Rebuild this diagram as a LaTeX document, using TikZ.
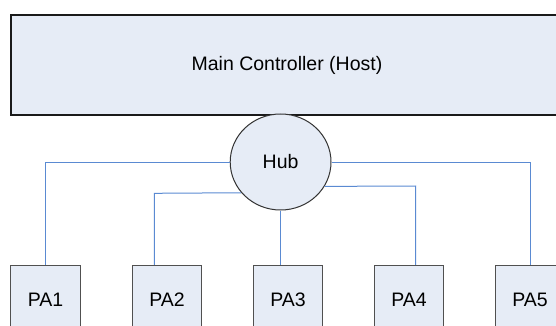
\documentclass[tikz,border=0pt]{standalone}
\usepackage{fontspec}
\setmainfont{Liberation Sans}
\usetikzlibrary{shapes.geometric}
\definecolor{boxfill}{HTML}{E6ECF6}
\definecolor{linkblue}{HTML}{5A8AD2}
\definecolor{mainedge}{HTML}{1A1A1A}
\definecolor{paedge}{HTML}{505050}
\definecolor{hubedge}{HTML}{333333}
\begin{document}
\begin{tikzpicture}[x=1pt,y=-1pt,
  font=\fontsize{19.5}{23}\selectfont,
  hostbox/.style={draw=mainedge,line width=1.3pt,fill=boxfill,rectangle,
    minimum width=552pt,minimum height=100pt,inner sep=0pt},
  hubnode/.style={draw=hubedge,line width=1pt,fill=boxfill,ellipse,
    minimum width=100.8pt,minimum height=96pt,inner sep=0pt},
  pabox/.style={draw=paedge,line width=1.2pt,fill=boxfill,rectangle,
    minimum width=69.5pt,minimum height=68pt,inner sep=0pt},
  link/.style={draw=linkblue,line width=1pt}]
\useasboundingbox (0,0) rectangle (556,326);
\begin{scope}
\clip (0,0) rectangle (556,326);
% host controller
\node[hostbox] (host) at (287,65) {Main Controller (Host)};
% power amplifier modules
\node[pabox] (pa1) at (45.6,299.5) {PA1};
\node[pabox] (pa2) at (167,299.5) {PA2};
\node[pabox] (pa3) at (288,299.5) {PA3};
\node[pabox] (pa4) at (409,299.5) {PA4};
\node[pabox] (pa5) at (530,299.5) {PA5};
% hub and its wiring to each module
\coordinate (j2) at (154.3,193.3);
\coordinate (j4) at (415.5,186);
\node[hubnode] (hub) at (280.6,162) {Hub};
\draw[link] (hub.west) -| (pa1.north);
\draw[link] (hub.218.8) -- (j2) -- (j2 |- pa2.north);
\draw[link] (hub.south) -- (hub.south |- pa3.north);
\draw[link] (hub.331.2) -- (j4) -- (j4 |- pa4.north);
\draw[link] (hub.east) -| (pa5.north);
\end{scope}
\end{tikzpicture}
\end{document}
